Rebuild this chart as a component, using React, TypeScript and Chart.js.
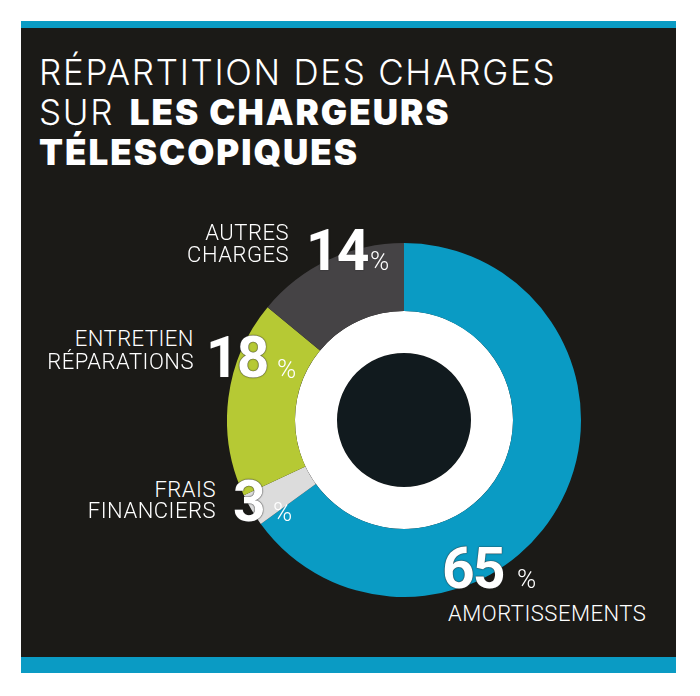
import React, { useEffect, useRef } from "react";
import { Chart, registerables } from "chart.js";

Chart.register(...registerables);

// ---- data ----
const categories = ["AMORTISSEMENTS", "FRAIS FINANCIERS", "ENTRETIEN RÉPARATIONS", "AUTRES CHARGES"];
const values = [65, 3, 18, 14];
const labelLines = [["AMORTISSEMENTS"], ["FRAIS", "FINANCIERS"], ["ENTRETIEN", "RÉPARATIONS"], ["AUTRES", "CHARGES"]];
const titleLight1 = "RÉPARTITION DES CHARGES";
const titleLight2 = "SUR ";
const titleBold2 = "LES CHARGEURS";
const titleBold3 = "TÉLESCOPIQUES";

// ---- styles ----
const sliceColors = ["#0a9bc4", "#dcdcdc", "#b6c934", "#454345"];
const TEAL = "#0a9bc4";
const PANEL = "#1b1a17";
const CENTER = "#111a1e";
const ROBOTO = "Roboto, 'Liberation Sans', sans-serif";
const INTER = "Inter, Roboto, sans-serif";

// baseline factors with lineHeight 1
const BF_ROBOTO = 0.8415;
const BF_INTER = 0.864;

// label layout (per category index)
const layout = [
  { align: "left", x: 448, baselines: [622], num: { x: 442, y: 588 }, pct: { x: 517, y: 588 } },
  { align: "right", x: 216, baselines: [498, 519], num: { x: 233, y: 521 }, pct: { x: 273, y: 521 } },
  { align: "right", x: 194, baselines: [347, 370], num: { x: 206, y: 377 }, pct: { x: 277, y: 378 } },
  { align: "right", x: 289, baselines: [241, 263], num: { x: 306, y: 270 }, pct: { x: 370, y: 270 } },
];

function Txt(props: { x: number; baseline: number; size: number; weight: number; align?: string; font?: string; bf?: number; children: any; style?: any }) {
  const { x, baseline, size, weight, align, children, style } = props;
  const font = props.font || ROBOTO;
  const bf = props.bf || BF_ROBOTO;
  const base: any = {
    position: "absolute",
    top: baseline - bf * size,
    fontFamily: font,
    fontSize: size,
    fontWeight: weight,
    lineHeight: "1",
    color: "#ffffff",
    whiteSpace: "nowrap",
  };
  if (align === "right") base.right = 700 - x;
  else base.left = x;
  return <div style={{ ...base, ...(style || {}) }}>{children}</div>;
}

export default function App() {
  const canvasRef = useRef<HTMLCanvasElement | null>(null);

  useEffect(() => {
    const ctx = canvasRef.current;
    if (!ctx) return;
    const chart = new Chart(ctx, {
      type: "doughnut",
      data: {
        labels: categories,
        datasets: [
          { data: values, backgroundColor: sliceColors, borderWidth: 0, hoverOffset: 0, weight: 68 } as any,
          { data: [1], backgroundColor: ["#ffffff"], borderWidth: 0, hoverOffset: 0, weight: 42 } as any,
          { data: [1], backgroundColor: [CENTER], borderWidth: 0, hoverOffset: 0, weight: 67 } as any,
        ],
      },
      options: {
        responsive: false,
        maintainAspectRatio: false,
        animation: false,
        cutout: 0,
        events: [],
        layout: { padding: 0 },
        plugins: { legend: { display: false }, tooltip: { enabled: false } },
      },
    });
    return () => chart.destroy();
  }, []);

  const numShadow = "0 0 1.5px #2b2b2b, 0 0 1px #2b2b2b";
  const boldStyle = { fontWeight: 900, letterSpacing: 2, marginLeft: 4 };

  return (
    <div style={{ position: "absolute", left: 0, top: 0, width: 700, height: 696, background: "#ffffff", overflow: "hidden" }}>
      <div style={{ position: "absolute", left: 21, top: 21, width: 655, height: 7, background: TEAL }} />
      <div style={{ position: "absolute", left: 21, top: 28, width: 655, height: 629, background: PANEL }} />
      <div style={{ position: "absolute", left: 21, top: 657, width: 655, height: 16, background: TEAL }} />

      <Txt x={39} baseline={85} size={35} weight={300} font={INTER} bf={BF_INTER} style={{ letterSpacing: 1.7 }}>
        {titleLight1}
      </Txt>
      <Txt x={39} baseline={125} size={35} weight={300} font={INTER} bf={BF_INTER} style={{ letterSpacing: 1.7 }}>
        {titleLight2}
        <span style={boldStyle}>{titleBold2}</span>
      </Txt>
      <Txt x={39} baseline={165} size={35} weight={900} font={INTER} bf={BF_INTER} style={{ letterSpacing: 2 }}>
        {titleBold3}
      </Txt>

      <canvas
        ref={canvasRef}
        width={354}
        height={354}
        style={{ position: "absolute", left: 227, top: 243, width: 354, height: 354 }}
      />

      {categories.map((c, i) => {
        const L = layout[i];
        return (
          <React.Fragment key={c}>
            {labelLines[i].map((line, j) => (
              <Txt key={j} x={L.x} baseline={L.baselines[j]} size={22} weight={300} align={L.align} style={{ letterSpacing: 0.5 }}>
                {line}
              </Txt>
            ))}
            <Txt x={L.num.x} baseline={L.num.y} size={57} weight={700} style={{ letterSpacing: -2, textShadow: numShadow }}>
              {String(values[i])}
            </Txt>
            <Txt x={L.pct.x} baseline={L.pct.y} size={26} weight={300}>
              %
            </Txt>
          </React.Fragment>
        );
      })}
    </div>
  );
}
